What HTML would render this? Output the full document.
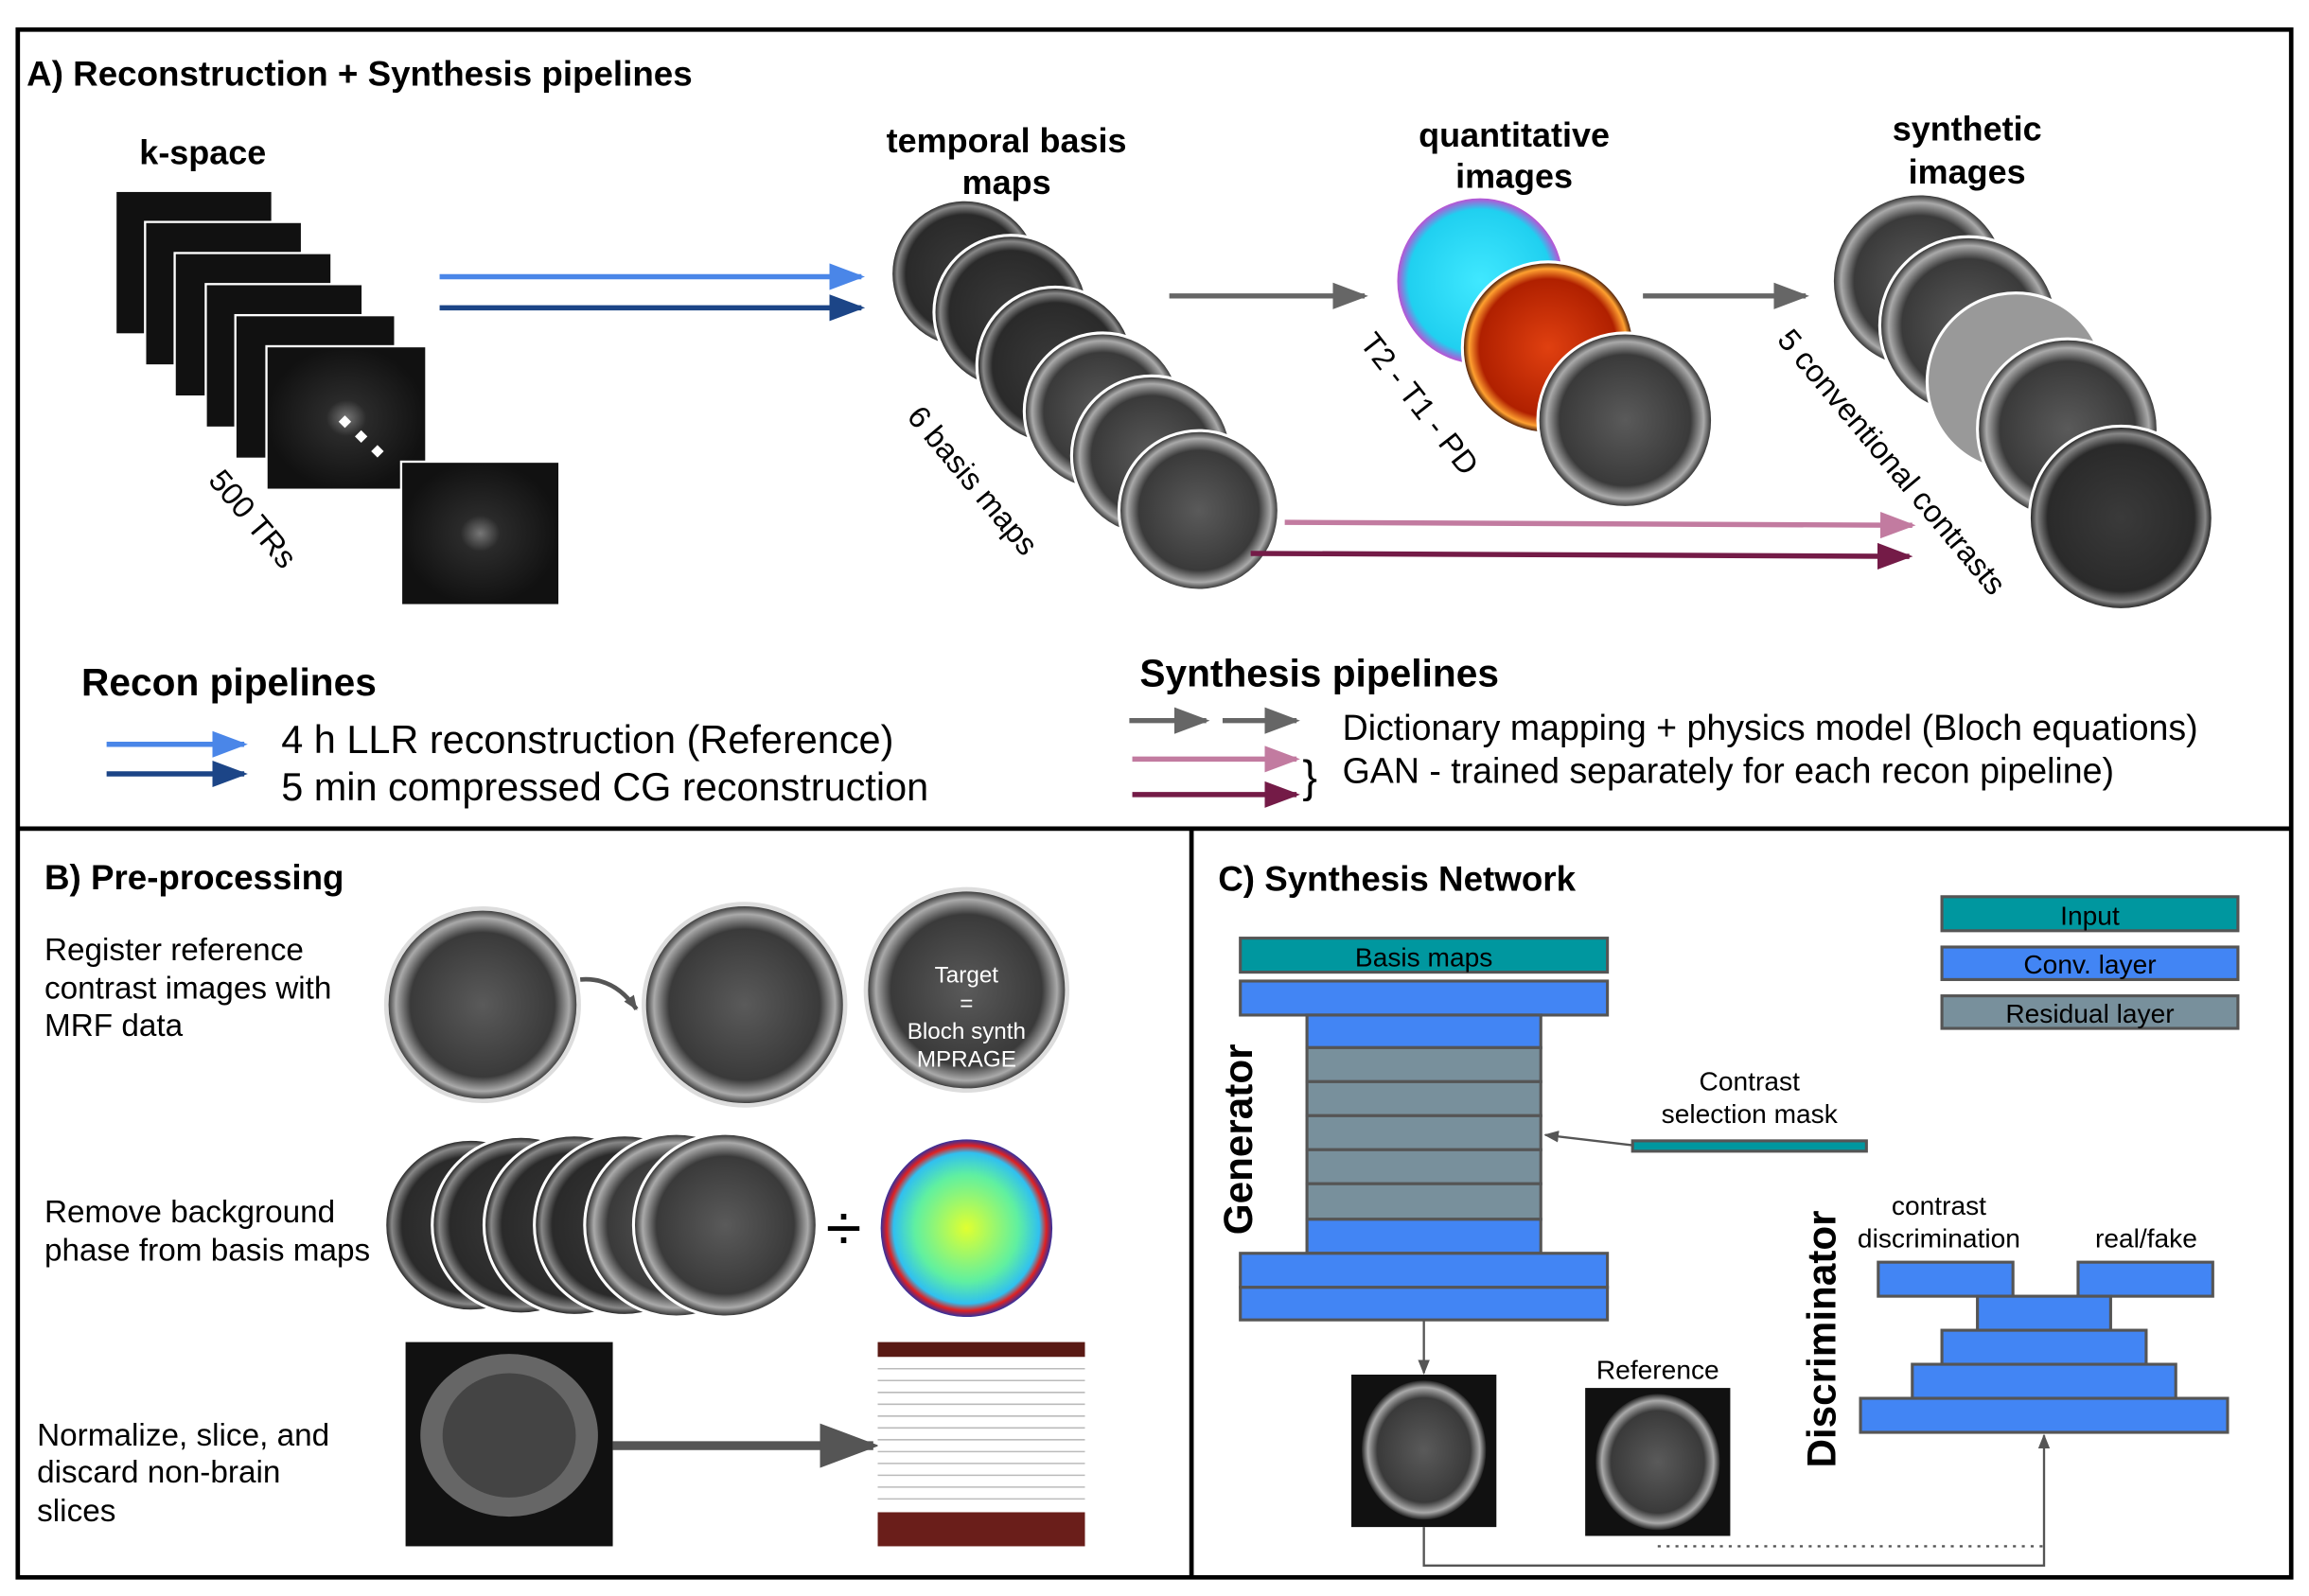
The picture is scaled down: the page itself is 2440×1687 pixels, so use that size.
<!DOCTYPE html>
<html><head><meta charset="utf-8"><style>
html,body{margin:0;padding:0;background:#fff}
svg{display:block}
text{font-family:"Liberation Sans",sans-serif}
</style></head><body>
<svg width="2440" height="1687" viewBox="0 0 1560 1078.6" xmlns="http://www.w3.org/2000/svg">
<defs>
<radialGradient id="br" cx="50%" cy="50%" r="50%"><stop offset="0" stop-color="#5a5a5a"/><stop offset="0.75" stop-color="#3a3a3a"/><stop offset="0.9" stop-color="#aaa"/><stop offset="1" stop-color="#222"/></radialGradient>
<radialGradient id="bd" cx="50%" cy="50%" r="50%"><stop offset="0" stop-color="#3a3a3a"/><stop offset="0.8" stop-color="#2a2a2a"/><stop offset="0.92" stop-color="#888"/><stop offset="1" stop-color="#111"/></radialGradient>
<radialGradient id="ks" cx="50%" cy="50%" r="50%"><stop offset="0" stop-color="#777"/><stop offset="0.25" stop-color="#2a2a2a"/><stop offset="1" stop-color="#111"/></radialGradient>
<radialGradient id="cy" cx="50%" cy="50%" r="50%"><stop offset="0" stop-color="#40e8ff"/><stop offset="0.85" stop-color="#20d0f0"/><stop offset="1" stop-color="#d040d0"/></radialGradient>
<radialGradient id="rd" cx="50%" cy="50%" r="50%"><stop offset="0" stop-color="#e04010"/><stop offset="0.8" stop-color="#b02000"/><stop offset="0.92" stop-color="#ffa030"/><stop offset="1" stop-color="#200"/></radialGradient>
<radialGradient id="ph" cx="50%" cy="50%" r="50%"><stop offset="0" stop-color="#e0ff30"/><stop offset="0.6" stop-color="#60f0a0"/><stop offset="0.85" stop-color="#30c0f0"/><stop offset="0.93" stop-color="#e02020"/><stop offset="1" stop-color="#3030a0"/></radialGradient>
<marker id="ab" viewBox="0 0 10 10" refX="9" refY="5" markerWidth="24" markerHeight="18" orient="auto" markerUnits="userSpaceOnUse" preserveAspectRatio="none"><path d="M0,0L10,5L0,10z" fill="#4a86e8"/></marker>
<marker id="ad" viewBox="0 0 10 10" refX="9" refY="5" markerWidth="24" markerHeight="18" orient="auto" markerUnits="userSpaceOnUse" preserveAspectRatio="none"><path d="M0,0L10,5L0,10z" fill="#1c4587"/></marker>
<marker id="ag" viewBox="0 0 10 10" refX="9" refY="5" markerWidth="24" markerHeight="18" orient="auto" markerUnits="userSpaceOnUse" preserveAspectRatio="none"><path d="M0,0L10,5L0,10z" fill="#666"/></marker>
<marker id="ap" viewBox="0 0 10 10" refX="9" refY="5" markerWidth="24" markerHeight="18" orient="auto" markerUnits="userSpaceOnUse" preserveAspectRatio="none"><path d="M0,0L10,5L0,10z" fill="#c27ba0"/></marker>
<marker id="am" viewBox="0 0 10 10" refX="9" refY="5" markerWidth="24" markerHeight="18" orient="auto" markerUnits="userSpaceOnUse" preserveAspectRatio="none"><path d="M0,0L10,5L0,10z" fill="#741b47"/></marker>
<marker id="as" viewBox="0 0 10 10" refX="9" refY="5" markerWidth="10" markerHeight="8" orient="auto" markerUnits="userSpaceOnUse" preserveAspectRatio="none"><path d="M0,0L10,5L0,10z" fill="#555"/></marker>
<marker id="abig" viewBox="0 0 10 10" refX="9" refY="5" markerWidth="40" markerHeight="30" orient="auto" markerUnits="userSpaceOnUse" preserveAspectRatio="none"><path d="M0,0L10,5L0,10z" fill="#555"/></marker>
</defs>
<rect x="0" y="0" width="1560" height="1078.6" fill="#fff"/>
<rect x="12" y="20" width="1536" height="1046" fill="none" stroke="#000" stroke-width="3"/>
<line x1="12" y1="560" x2="1548" y2="560" stroke="#000" stroke-width="3"/>
<line x1="805" y1="560" x2="805" y2="1066" stroke="#000" stroke-width="3"/>

<text x="18" y="58" font-size="23.5" font-weight="bold">A) Reconstruction + Synthesis pipelines</text>
<text x="137" y="111" font-size="23" font-weight="bold" text-anchor="middle">k-space</text>
<g stroke="#fff" stroke-width="1.5" fill="#111">
<rect x="78" y="129" width="106" height="97"/>
<rect x="98" y="150" width="106" height="97"/>
<rect x="118" y="171" width="106" height="97"/>
<rect x="139" y="192" width="106" height="97"/>
<rect x="159" y="213" width="108" height="97"/>
<rect x="180" y="234" width="108" height="97" fill="url(#ks)"/>
<rect x="271" y="312" width="107" height="97" fill="url(#ks)"/>
</g>
<g fill="#fff"><rect x="230" y="282" width="6" height="6" transform="rotate(45 233 285)"/><rect x="241" y="292" width="6" height="6" transform="rotate(45 244 295)"/><rect x="252" y="302" width="6" height="6" transform="rotate(45 255 305)"/></g>
<text x="140" y="325" font-size="21" transform="rotate(50 140 325)">500 TRs</text>
<line x1="297" y1="187" x2="582" y2="187" stroke="#4a86e8" stroke-width="3.5" marker-end="url(#ab)"/>
<line x1="297" y1="208" x2="582" y2="208" stroke="#1c4587" stroke-width="3.5" marker-end="url(#ad)"/>

<text x="680" y="103" font-size="23" font-weight="bold" text-anchor="middle">temporal basis</text>
<text x="680" y="131" font-size="23" font-weight="bold" text-anchor="middle">maps</text>
<g stroke="#fff" stroke-width="2">
<circle cx="652" cy="185" r="50" fill="url(#bd)"/>
<circle cx="683" cy="211" r="52" fill="url(#bd)"/>
<circle cx="713" cy="247" r="53" fill="url(#bd)"/>
<circle cx="745" cy="278" r="53" fill="url(#br)"/>
<circle cx="778" cy="308" r="54" fill="url(#br)"/>
<circle cx="810" cy="345" r="54" fill="url(#br)"/>
</g>
<text x="612" y="282" font-size="21" transform="rotate(50 612 282)">6 basis maps</text>
<line x1="790" y1="200" x2="922" y2="200" stroke="#666" stroke-width="3.5" marker-end="url(#ag)"/>

<text x="1023" y="99" font-size="23" font-weight="bold" text-anchor="middle">quantitative</text>
<text x="1023" y="127" font-size="23" font-weight="bold" text-anchor="middle">images</text>
<circle cx="1000" cy="190" r="57" fill="url(#cy)" stroke="#fff" stroke-width="2"/>
<circle cx="1046" cy="235" r="58" fill="url(#rd)" stroke="#fff" stroke-width="2"/>
<circle cx="1098" cy="284" r="59" fill="url(#br)" stroke="#fff" stroke-width="2"/>
<text x="918" y="232" font-size="21" transform="rotate(52 918 232)">T2 - T1 - PD</text>
<line x1="1110" y1="200" x2="1220" y2="200" stroke="#666" stroke-width="3.5" marker-end="url(#ag)"/>

<text x="1329" y="95" font-size="23" font-weight="bold" text-anchor="middle">synthetic</text>
<text x="1329" y="124" font-size="23" font-weight="bold" text-anchor="middle">images</text>
<g stroke="#fff" stroke-width="2">
<circle cx="1297" cy="190" r="59" fill="url(#br)"/>
<circle cx="1330" cy="220" r="60" fill="url(#br)"/>
<circle cx="1362" cy="258" r="60" fill="#999"/>
<circle cx="1397" cy="290" r="61" fill="url(#br)"/>
<circle cx="1433" cy="350" r="62" fill="url(#bd)"/>
</g>
<text x="1200" y="230" font-size="21" transform="rotate(50 1200 230)">5 conventional contrasts</text>
<line x1="868" y1="353" x2="1292" y2="355" stroke="#c27ba0" stroke-width="3.5" marker-end="url(#ap)"/>
<line x1="845" y1="374" x2="1290" y2="376" stroke="#741b47" stroke-width="3.5" marker-end="url(#am)"/>

<text x="55" y="470" font-size="26" font-weight="bold">Recon pipelines</text>
<line x1="72" y1="503" x2="165" y2="503" stroke="#4a86e8" stroke-width="3.5" marker-end="url(#ab)"/>
<line x1="72" y1="523" x2="165" y2="523" stroke="#1c4587" stroke-width="3.5" marker-end="url(#ad)"/>
<text x="190" y="509" font-size="26.5">4 h LLR reconstruction (Reference)</text>
<text x="190" y="541" font-size="26.5">5 min compressed CG reconstruction</text>

<text x="770" y="464" font-size="26" font-weight="bold">Synthesis pipelines</text>
<line x1="763" y1="487" x2="815" y2="487" stroke="#666" stroke-width="3.5" marker-end="url(#ag)"/>
<line x1="826" y1="487" x2="876" y2="487" stroke="#666" stroke-width="3.5" marker-end="url(#ag)"/>
<line x1="765" y1="513" x2="876" y2="513" stroke="#c27ba0" stroke-width="3.5" marker-end="url(#ap)"/>
<line x1="765" y1="537" x2="876" y2="537" stroke="#741b47" stroke-width="3.5" marker-end="url(#am)"/>
<text x="880" y="535" font-size="30">}</text>
<text x="907" y="500" font-size="24">Dictionary mapping + physics model (Bloch equations)</text>
<text x="907" y="529" font-size="24">GAN - trained separately for each recon pipeline)</text>

<text x="30" y="601" font-size="23.5" font-weight="bold">B) Pre-processing</text>
<text x="30" y="649" font-size="21.3">Register reference</text>
<text x="30" y="675" font-size="21.3">contrast images with</text>
<text x="30" y="700" font-size="21.3">MRF data</text>
<circle cx="326" cy="679" r="65" fill="url(#br)" stroke="#ddd" stroke-width="3"/>
<circle cx="503" cy="679" r="68" fill="url(#br)" stroke="#ddd" stroke-width="3"/>
<circle cx="653" cy="669" r="68" fill="url(#br)" stroke="#ddd" stroke-width="3"/>
<path d="M392,662 Q415,660 430,682" fill="none" stroke="#555" stroke-width="3" marker-end="url(#as)"/>
<g fill="#fff" font-size="15.5" text-anchor="middle"><text x="653" y="664">Target</text><text x="653" y="683">=</text><text x="653" y="702">Bloch synth</text><text x="653" y="721">MPRAGE</text></g>

<text x="30" y="826" font-size="21.3">Remove background</text>
<text x="30" y="852" font-size="21.3">phase from basis maps</text>
<g stroke="#fff" stroke-width="2">
<circle cx="318" cy="828" r="58" fill="url(#bd)"/>
<circle cx="352" cy="828" r="60" fill="url(#bd)"/>
<circle cx="388" cy="828" r="61" fill="url(#bd)"/>
<circle cx="422" cy="828" r="61" fill="url(#bd)"/>
<circle cx="457" cy="828" r="62" fill="url(#br)"/>
<circle cx="490" cy="828" r="62" fill="url(#br)"/>
</g>
<text x="570" y="845" font-size="44" text-anchor="middle">÷</text>
<ellipse cx="653" cy="830" rx="58" ry="60" fill="url(#ph)"/>

<rect x="274" y="907" width="140" height="138" fill="#111"/>
<ellipse cx="344" cy="970" rx="60" ry="55" fill="#666"/>
<ellipse cx="344" cy="970" rx="45" ry="42" fill="#444"/>
<line x1="414" y1="977" x2="590" y2="977" stroke="#555" stroke-width="6" marker-end="url(#abig)"/>
<rect x="593" y="907" width="140" height="138" fill="#fff"/>
<g stroke="#bbb" stroke-width="1">
<line x1="593" y1="925" x2="733" y2="925"/><line x1="593" y1="933" x2="733" y2="933"/><line x1="593" y1="941" x2="733" y2="941"/><line x1="593" y1="949" x2="733" y2="949"/><line x1="593" y1="957" x2="733" y2="957"/><line x1="593" y1="965" x2="733" y2="965"/><line x1="593" y1="973" x2="733" y2="973"/><line x1="593" y1="981" x2="733" y2="981"/><line x1="593" y1="989" x2="733" y2="989"/><line x1="593" y1="997" x2="733" y2="997"/><line x1="593" y1="1005" x2="733" y2="1005"/><line x1="593" y1="1013" x2="733" y2="1013"/>
</g>
<rect x="593" y="907" width="140" height="10" fill="#5a1a14"/>
<rect x="593" y="1022" width="140" height="23" fill="#6a1e1a"/>
<text x="25" y="977" font-size="21.3">Normalize, slice, and</text>
<text x="25" y="1002" font-size="21.3">discard non-brain</text>
<text x="25" y="1028" font-size="21.3">slices</text>

<text x="823" y="602" font-size="23.5" font-weight="bold">C) Synthesis Network</text>
<g stroke="#555" stroke-width="2">
<rect x="1312" y="606" width="200" height="23" fill="#00979f"/>
<rect x="1312" y="640" width="200" height="22" fill="#4285f4"/>
<rect x="1312" y="673" width="200" height="22" fill="#78909c"/>
<rect x="838" y="634" width="248" height="23" fill="#00979f"/>
<rect x="838" y="663" width="248" height="23" fill="#4285f4"/>
<rect x="883" y="686" width="158" height="22" fill="#4285f4"/>
<rect x="883" y="708" width="158" height="23" fill="#78909c"/>
<rect x="883" y="731" width="158" height="23" fill="#78909c"/>
<rect x="883" y="754" width="158" height="23" fill="#78909c"/>
<rect x="883" y="777" width="158" height="23" fill="#78909c"/>
<rect x="883" y="800" width="158" height="24" fill="#78909c"/>
<rect x="883" y="824" width="158" height="23" fill="#4285f4"/>
<rect x="838" y="847" width="248" height="23" fill="#4285f4"/>
<rect x="838" y="870" width="248" height="22" fill="#4285f4"/>
<rect x="1103" y="771" width="158" height="7" fill="#00979f"/>
<rect x="1269" y="853" width="91" height="23" fill="#4285f4"/>
<rect x="1404" y="853" width="91" height="23" fill="#4285f4"/>
<rect x="1336" y="876" width="90" height="23" fill="#4285f4"/>
<rect x="1312" y="899" width="138" height="23" fill="#4285f4"/>
<rect x="1292" y="922" width="178" height="23" fill="#4285f4"/>
<rect x="1257" y="945" width="248" height="23" fill="#4285f4"/>
</g>
<g font-size="18" text-anchor="middle">
<text x="1412" y="625">Input</text><text x="1412" y="658">Conv. layer</text><text x="1412" y="691">Residual layer</text>
<text x="962" y="653">Basis maps</text>
<text x="1182" y="737">Contrast</text><text x="1182" y="759">selection mask</text>
<text x="1310" y="821">contrast</text><text x="1310" y="843">discrimination</text><text x="1450" y="843">real/fake</text>
<text x="1120" y="932">Reference</text>
</g>
<text transform="translate(846 770) rotate(-90)" font-size="27" font-weight="bold" text-anchor="middle">Generator</text>
<text transform="translate(1240 905) rotate(-90)" font-size="27" font-weight="bold" text-anchor="middle">Discriminator</text>
<line x1="1103" y1="774" x2="1044" y2="767" stroke="#555" stroke-width="1.5" marker-end="url(#as)"/>
<line x1="962" y1="892" x2="962" y2="928" stroke="#555" stroke-width="1.5" marker-end="url(#as)"/>
<rect x="913" y="929" width="98" height="103" fill="#111"/>
<ellipse cx="962" cy="980" rx="42" ry="47" fill="url(#br)"/>
<rect x="1071" y="938" width="98" height="100" fill="#111"/>
<ellipse cx="1120" cy="988" rx="42" ry="46" fill="url(#br)"/>
<polyline points="962,1032 962,1058 1381,1058 1381,970" fill="none" stroke="#555" stroke-width="1.5" marker-end="url(#as)"/>
<line x1="1120" y1="1045" x2="1381" y2="1045" stroke="#555" stroke-width="1.5" stroke-dasharray="2,4"/>
</svg>
</body></html>
